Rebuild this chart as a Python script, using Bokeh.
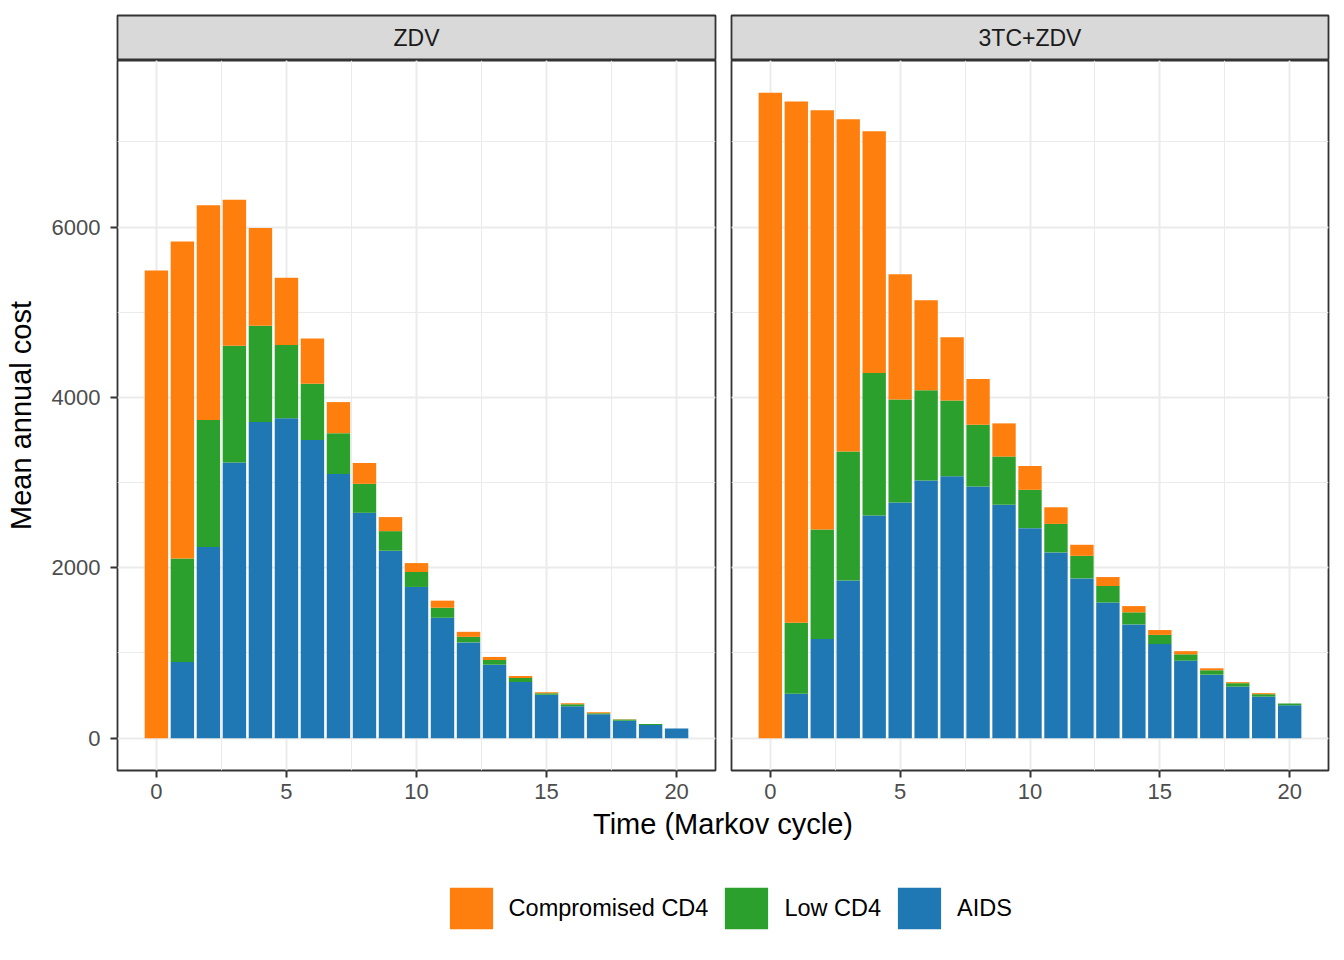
from bokeh.plotting import figure
from bokeh.models import ColumnDataSource, Range1d, SingleIntervalTicker, Label
from bokeh.layouts import row, column
from bokeh.embed import file_html
from bokeh.resources import INLINE

FONT = "Liberation Sans"
ORANGE, GREEN, BLUE = "#ff7f0e", "#2ca02c", "#1f77b4"

cycles = list(range(21))

# ZDV arm: mean annual cost per state
zdv_aids = [0, 895, 2245, 3235, 3710, 3755, 3500, 3100, 2645, 2200, 1775,
            1413, 1124, 862, 660, 510, 375, 280, 205, 154, 114]
zdv_low = [0, 1215, 1490, 1370, 1130, 860, 660, 480, 340, 230, 175,
           118, 65, 55, 45, 18, 23, 11, 15, 11, 0]
zdv_comp = [5490, 3720, 2520, 1715, 1150, 790, 530, 365, 245, 165, 105,
            83, 59, 36, 23, 11, 11, 12, 2, 0, 0]

# 3TC+ZDV arm
combo_aids = [0, 520, 1165, 1850, 2615, 2765, 3025, 3075, 2955, 2740, 2465,
              2180, 1875, 1592, 1335, 1104, 910, 745, 605, 488, 386]
combo_low = [0, 835, 1285, 1515, 1670, 1210, 1060, 890, 725, 565, 450,
             335, 265, 194, 142, 108, 74, 52, 40, 28, 22]
combo_comp = [7575, 6120, 4920, 3900, 2840, 1470, 1055, 740, 535, 390, 280,
              195, 130, 105, 73, 57, 37, 23, 12, 12, 0]

states = ["aids", "low", "comp"]
state_labels = ["AIDS", "Low CD4", "Compromised CD4"]
state_colors = [BLUE, GREEN, ORANGE]

x_range = Range1d(-1.495, 21.495)
y_range = Range1d(-380, 7955)

LEFT_W, RIGHT_W = 598, 597


def strip(title, left, frame_w, right):
    s = figure(width=left + frame_w + right, height=60,
               x_range=(0, 1), y_range=(0, 1),
               x_axis_location=None, y_axis_location=None,
               toolbar_location=None, output_backend="svg",
               min_border_left=left, min_border_right=right,
               min_border_top=15, min_border_bottom=0)
    s.grid.visible = False
    s.background_fill_color = "#d9d9d9"
    s.outline_line_color = "#333333"
    s.outline_line_width = 1.8
    s.add_layout(Label(x=0.5, y=0.5, text=title, text_align="center",
                       text_baseline="middle", text_font=FONT,
                       text_font_size="23px", text_color="#1a1a1a"))
    return s


def panel(aids, low, comp, left, frame_w, right, show_y):
    p = figure(width=left + frame_w + right, height=744,
               x_range=x_range, y_range=y_range,
               y_axis_location="left" if show_y else None,
               toolbar_location=None, output_backend="svg",
               min_border_left=left, min_border_right=right,
               min_border_top=0, min_border_bottom=34)
    src = ColumnDataSource(dict(t=cycles, aids=aids, low=low, comp=comp))
    p.vbar_stack(states, x="t", width=0.9, source=src,
                 fill_color=state_colors, line_color=None)
    p.outline_line_color = "#333333"
    p.outline_line_width = 1.8

    for g, step in ((p.xgrid, 5), (p.ygrid, 2000)):
        g.ticker = SingleIntervalTicker(interval=step, num_minor_ticks=2)
        g.grid_line_color = "#ebebeb"
        g.grid_line_width = 2
        g.minor_grid_line_color = "#ebebeb"
        g.minor_grid_line_width = 1

    axes = [p.xaxis[0]] + ([p.yaxis[0]] if show_y else [])
    for ax in axes:
        ax.axis_line_color = None
        ax.major_tick_line_color = "#333333"
        ax.major_tick_line_width = 2
        ax.major_tick_out = 7
        ax.major_tick_in = 0
        ax.minor_tick_line_color = None
        ax.major_label_text_font = FONT
        ax.major_label_text_font_size = "22px"
        ax.major_label_text_color = "#4d4d4d"
    p.xaxis.ticker = SingleIntervalTicker(interval=5, num_minor_ticks=2)
    p.xaxis.major_label_standoff = 6
    if show_y:
        p.yaxis.ticker = SingleIntervalTicker(interval=2000, num_minor_ticks=2)
        p.yaxis.major_label_standoff = 10
        p.yaxis.axis_label = "Mean annual cost"
        p.yaxis.axis_label_text_font = FONT
        p.yaxis.axis_label_text_font_size = "29px"
        p.yaxis.axis_label_text_font_style = "normal"
        p.yaxis.axis_label_text_color = "black"
        p.yaxis.axis_label_standoff = 12
    return p


p1 = panel(zdv_aids, zdv_low, zdv_comp, 117, LEFT_W, 8, True)
p2 = panel(combo_aids, combo_low, combo_comp, 8, RIGHT_W, 16, False)
s1 = strip("ZDV", 117, LEFT_W, 8)
s2 = strip("3TC+ZDV", 8, RIGHT_W, 16)

# bottom band: shared x title and legend
bw, bh = 1344, 156
b = figure(width=bw, height=bh, x_range=Range1d(0, bw), y_range=Range1d(0, bh),
           x_axis_location=None, y_axis_location=None,
           toolbar_location=None, output_backend="svg", min_border=0)
b.grid.visible = False
b.outline_line_color = None
b.add_layout(Label(x=722.5, y=137, text="Time (Markov cycle)",
                   text_align="center", text_baseline="middle",
                   text_font=FONT, text_font_size="29px", text_color="black"))
# zero-height bars: only there to feed the legend keys
key_src = ColumnDataSource(dict(t=cycles))
for name, col in zip(reversed(state_labels), reversed(state_colors)):
    b.vbar(x="t", top=0, bottom=0, width=0.9, source=key_src,
           fill_color=col, line_color=None, legend_label=name)
lg = b.legend[0]
lg.orientation = "horizontal"
lg.location = (443.6, 26)
lg.glyph_width = 54
lg.glyph_height = 52
lg.label_standoff = 11
lg.spacing = 11
lg.padding = 0
lg.margin = 0
lg.border_line_color = None
lg.background_fill_alpha = 0
lg.label_text_font = FONT
lg.label_text_font_size = "23.5px"
lg.label_text_color = "black"

layout = column(row(column(s1, p1), column(s2, p2)), b)

open("out.html", "w").write(file_html(layout, INLINE, "Mean annual cost"))
